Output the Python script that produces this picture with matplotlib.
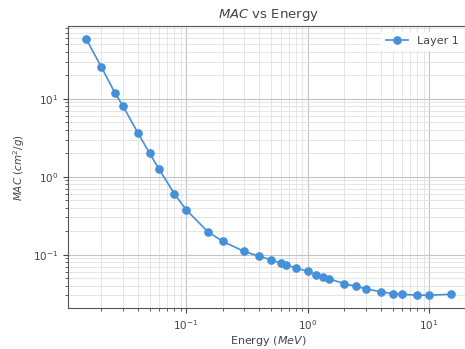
import numpy as np
import matplotlib
matplotlib.use("Agg")
import matplotlib.pyplot as plt

# energies (MeV) and mass attenuation coefficients (cm^2/g)
energy = [0.015, 0.02, 0.026, 0.03, 0.04, 0.05, 0.06, 0.08, 0.1, 0.15, 0.2,
          0.3, 0.4, 0.5, 0.6, 0.662, 0.8, 1.0, 1.173, 1.332, 1.5, 2.0, 2.5,
          3.0, 4.0, 5.0, 6.0, 8.0, 10.0, 15.0]
mac = [58.9, 25.7, 11.8, 8.2, 3.66, 2.0, 1.24, 0.603, 0.377, 0.198, 0.148,
       0.110, 0.0955, 0.0857, 0.0778, 0.0747, 0.0671, 0.0615, 0.0552, 0.0516,
       0.0491, 0.0424, 0.0392, 0.0366, 0.0333, 0.0317, 0.0310, 0.0302, 0.0302,
       0.0310]
series_name = "Layer 1"

txt = "#444444"
plt.rcParams['text.color'] = txt
plt.rcParams['axes.labelcolor'] = txt
plt.rcParams['xtick.color'] = txt
plt.rcParams['ytick.color'] = txt

fig = plt.figure(figsize=(4.65, 3.49), dpi=100)
ax = fig.add_axes([0.146, 0.1175, 1.008 - 0.146, 0.9255 - 0.1175])

ax.plot(energy, mac, marker='o', color='#4590d8', lw=1.2, ms=5.2, label=series_name)
ax.set_xscale('log')
ax.set_yscale('log')

ax.grid(True, which='major', color='#c4c4c4', lw=0.8)
ax.grid(True, which='minor', color='#e0e0e0', lw=0.6)
ax.set_axisbelow(True)

for s in ax.spines.values():
    s.set_color('#555555')

ax.tick_params(labelsize=7.5)
ax.set_title("$MAC$ vs Energy", fontsize=9.5)
ax.set_xlabel("Energy $(MeV)$", fontsize=8, labelpad=2)
ax.set_ylabel("$MAC$ $(cm^2/g)$", fontsize=7.5)
ax.legend(loc='upper right', fontsize=8, frameon=True, edgecolor='white', framealpha=1)

fig.savefig("out.png", dpi=100)
